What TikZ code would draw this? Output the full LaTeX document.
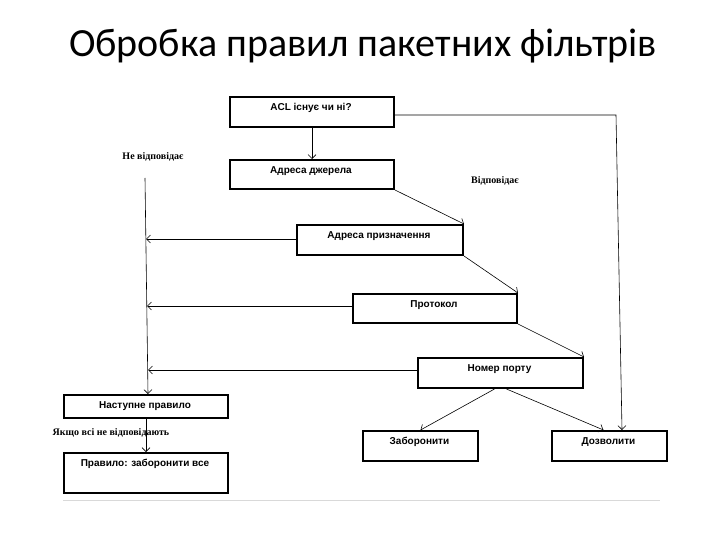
\documentclass[tikz,border=0pt]{standalone}
\usepackage{fontspec}
\setmainfont{Liberation Sans}
\newfontfamily\ttl{Carlito}
\newfontfamily\srf{Liberation Serif}
\usetikzlibrary{arrows.meta}
\begin{document}
\begin{tikzpicture}[x=1pt,y=-1pt,
  bx/.style={draw,line width=2pt,inner sep=0pt,anchor=north west},
  ar/.style={-{Straight Barb[length=4pt]},line width=0.6pt},
  lb/.style={font=\srf\fontsize{10}{11}\selectfont\bfseries}]
\useasboundingbox (0,0) rectangle (720,540);
\node[font=\ttl\fontsize{40}{44}\selectfont] (title) at (363,46) {Обробка правил пакетних фільтрів};
\newcommand{\bxx}[6]{\node[bx,minimum width=#4-#2,minimum height=#5-#3] (#1) at (#2,#3) {};
 \node[font=\fontsize{10}{12}\selectfont\bfseries] (#1t) at ({(#2+#4)/2},{#3+12}) {#6};}
\bxx{acl}{229}{96}{393}{126}{ACL існує чи ні?}
\bxx{src}{229}{159}{393}{188}{Адреса джерела}
\bxx{dst}{296}{224}{462}{254}{Адреса призначення}
\bxx{pro}{352}{293}{516}{322}{Протокол}
\bxx{prt}{417}{357}{582}{387}{Номер порту}
\bxx{nxt}{63}{394}{227}{417}{Наступне правило}
\bxx{den}{362}{430}{477}{460}{Заборонити}
\bxx{alw}{551}{430}{666}{460}{Дозволити}
\bxx{all}{63}{452}{227}{492}{Правило: заборонити все}
\coordinate (c1) at (616,115);
\coordinate (v0) at (145,178);
\draw[ar] (acl.south) -- (src.north);
\draw[ar] (acl.east |- c1) -- (c1) -- (alw.north -| 622,0);
\draw[ar] (src.south east) -- (dst.north east);
\draw[ar] (dst.south east) -- (pro.north east);
\draw[ar] (pro.south east) -- (prt.north east);
\draw[ar] ([xshift=-6pt]prt.south) -- (den.north);
\draw[ar] ([xshift=6pt]prt.south) -- ([xshift=-6pt]alw.north);
\draw[ar] (v0) -- (148,394);
\draw[ar] (dst.west |- 0,239) -- (146,239);
\draw[ar] (pro.west |- 0,306) -- (147,306);
\draw[ar] (prt.west |- 0,370) -- (148,370);
\draw[ar] (nxt.south) -- (all.north);
\node[lb] (l1) at (153,157) {Не відповідає};
\node[lb] (l2) at (495,181) {Відповідає};
\node[lb] (l3) at (111,433) {Якщо всі не відповідають};
\draw[gray!30,line width=1pt] (63,500) -- (660,500);
\end{tikzpicture}
\end{document}
